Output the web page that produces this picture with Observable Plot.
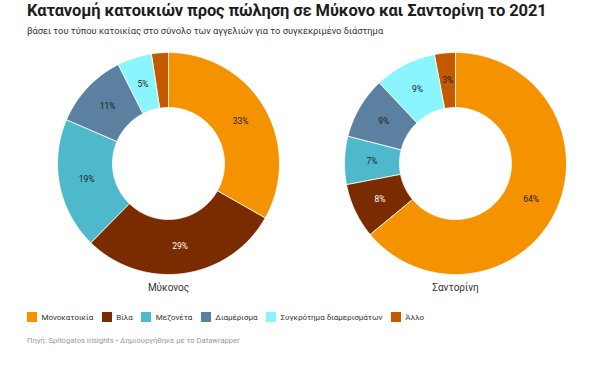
<!DOCTYPE html>
<html>
<head>
<meta charset="utf-8">
<script src="https://cdn.jsdelivr.net/npm/d3@7"></script>
<script src="https://cdn.jsdelivr.net/npm/@observablehq/plot@0.6"></script>
<style>
  body { margin: 0; background: #fff; font-family: Roboto, "Noto Sans", sans-serif; width: 595px; height: 373px; overflow: hidden; position: relative; }
  h1 { position: absolute; left: 27px; top: 1px; margin: 0; font-size: 16.5px; font-weight: 700; color: #1d1d1d; line-height: 20px; letter-spacing: -0.1px; white-space: nowrap; }
  .sub { position: absolute; left: 27px; top: 25px; font-size: 9.3px; color: #333; line-height: 12px; white-space: nowrap; }
  #chart { position: absolute; left: 0; top: 46px; }
  #chart svg { display: block; }
  .legend { position: absolute; left: 27px; top: 312px; display: flex; font-size: 8px; color: #333; align-items: center; white-space: nowrap; }
  .legend .it { display: flex; align-items: center; margin-right: 8.5px; }
  .legend .sw { width: 10px; height: 10px; margin-right: 4.5px; }
  .cap { position: absolute; left: 27px; top: 336px; font-size: 7.6px; color: #999; white-space: nowrap; }
</style>
</head>
<body>
  <h1>Κατανομή κατοικιών προς πώληση σε Μύκονο και Σαντορίνη το 2021</h1>
  <div class="sub">βάσει του τύπου κατοικίας στο σύνολο των αγγελιών για το συγκεκριμένο διάστημα</div>
  <div id="chart"></div>
  <div class="legend" id="legend"></div>
  <div class="cap">Πηγή: Spitogatos Insights • Δημιουργήθηκε με το Datawrapper</div>
<script>
const categories = ["Μονοκατοικία", "Βίλα", "Μεζονέτα", "Διαμέρισμα", "Συγκρότημα διαμερισμάτων", "Άλλο"];
const colors = ["#f59200", "#7a2b00", "#4fb9cc", "#5b80a0", "#8af4ff", "#c45a00"];
const islands = ["Μύκονος", "Σαντορίνη"];
const mykonos = [33, 29, 19, 11, 5, 2.4];
const santorini = [64, 8, 7, 9, 9, 3];
const labelDark = [true, false, true, true, true, true];

const W = 595, H = 252;
const centers = [168, 455];
const cy = 117, R = 111, r = 56;

const series = [mykonos, santorini];
const poly = [], labels = [], names = [];
series.forEach((vals, si) => {
  const cx = centers[si];
  const total = d3.sum(vals);
  let acc = 0;
  vals.forEach((v, i) => {
    const a0 = acc / total * 2 * Math.PI;
    acc += v;
    const a1 = acc / total * 2 * Math.PI;
    const key = islands[si] + "-" + i;
    const n = Math.max(2, Math.ceil((a1 - a0) / (Math.PI / 180)));
    for (let k = 0; k <= n; k++) {
      const a = a0 + (a1 - a0) * k / n;
      poly.push({key, cat: categories[i], x: cx + R * Math.sin(a), y: cy - R * Math.cos(a)});
    }
    for (let k = n; k >= 0; k--) {
      const a = a0 + (a1 - a0) * k / n;
      poly.push({key, cat: categories[i], x: cx + r * Math.sin(a), y: cy - r * Math.cos(a)});
    }
    const pct = Math.round(v / total * 100);
    if (v >= 3) {
      const am = (a0 + a1) / 2, rm = (R + r) / 2;
      labels.push({x: cx + rm * Math.sin(am), y: cy - rm * Math.cos(am), text: pct + "%", dark: labelDark[i]});
    }
  });
  names.push({x: cx, y: cy + R + 13.5, text: islands[si]});
});

const chart = Plot.plot({
  width: W, height: H,
  margin: 0,
  x: {domain: [0, W], range: [0, W], axis: null},
  y: {domain: [0, H], range: [0, H], axis: null},
  color: {domain: categories, range: colors},
  style: {fontFamily: "Roboto, sans-serif"},
  marks: [
    Plot.line(poly, {x: "x", y: "y", z: "key", fill: "cat", stroke: "white", strokeWidth: 0.8, curve: "linear-closed"}),
    Plot.text(labels.filter(d => d.dark), {x: "x", y: "y", text: "text", fill: "#1d1d1d", fontSize: 8.5}),
    Plot.text(labels.filter(d => !d.dark), {x: "x", y: "y", text: "text", fill: "#ffffff", fontSize: 8.5}),
    Plot.text(names, {x: "x", y: "y", text: "text", fill: "#333", fontSize: 10})
  ]
});
document.getElementById("chart").appendChild(chart);

const lg = document.getElementById("legend");
categories.forEach((c, i) => {
  const it = document.createElement("div");
  it.className = "it";
  it.innerHTML = `<span class="sw" style="background:${colors[i]}"></span><span>${c}</span>`;
  lg.appendChild(it);
});
</script>
</body>
</html>
